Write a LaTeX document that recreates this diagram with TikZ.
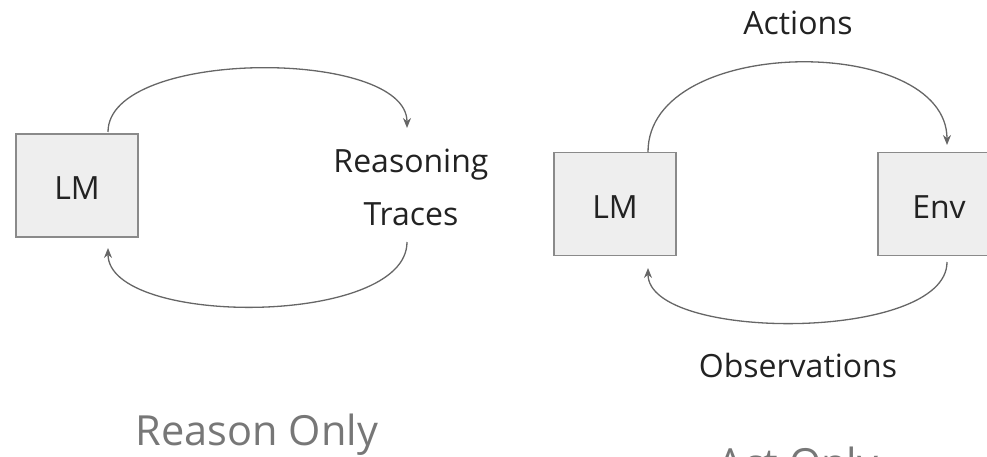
\documentclass[tikz,border=0pt]{standalone}
\usepackage{fontspec}
\setmainfont{Open Sans}
\usetikzlibrary{arrows.meta}
\definecolor{boxfill}{HTML}{EEEEEE}
\definecolor{boxline}{HTML}{8A8A8A}
\definecolor{arc}{HTML}{666666}
\definecolor{txt}{HTML}{222222}
\definecolor{cap}{HTML}{777777}
\begin{document}
\begin{tikzpicture}[x=1pt,y=-1pt,
  box/.style={draw=boxline,line width=1.4pt,fill=boxfill,minimum width=122pt,minimum height=103pt,inner sep=0pt},
  lbl/.style={text=txt,font=\fontsize{32}{34}\selectfont,inner sep=0pt,anchor=base},
  caption/.style={text=cap,font=\fontsize{41.5}{44}\selectfont,inner sep=0pt,anchor=base},
  loop/.style={draw=arc,line width=1.3pt,-{Stealth[length=10pt,width=8pt]}}]
\useasboundingbox (0,0) rectangle (987,457);
\clip (0,0) rectangle (987,457);
% left: reason only
\node[box] (lm1) at (77,185.5) {};
\node[lbl] (lm1t) at (77,200) {LM};
\node[lbl] (rt1) at (411,173) {Reasoning};
\node[lbl] (rt2) at (411,225) {Traces};
\node[caption] (cap1) at (257,445) {Reason Only};
\coordinate (a1s) at (108,132);
\coordinate (a1e) at (407,128);
\coordinate (b1s) at (407,242);
\coordinate (b1e) at (108,248);
\draw[loop] (a1s) .. controls (108,48) and (407,48) .. (a1e);
\draw[loop] (b1s) .. controls (407,327) and (108,327) .. (b1e);
% right: act only
\node[box] (lm2) at (615,204) {};
\node[lbl] (lm2t) at (615,218) {LM};
\node[box] (env) at (939,204) {};
\node[lbl] (envt) at (939,218) {Env};
\node[lbl] (act) at (798,35) {Actions};
\node[lbl] (obs) at (798,377) {Observations};
\node[caption] (cap2) at (798,478) {Act Only};
\coordinate (a2s) at (648,152);
\coordinate (a2e) at (947,145);
\coordinate (b2s) at (947,262);
\coordinate (b2e) at (648,268);
\draw[loop] (a2s) .. controls (648,34) and (947,34) .. (a2e);
\draw[loop] (b2s) .. controls (947,342) and (648,342) .. (b2e);
\end{tikzpicture}
\end{document}
